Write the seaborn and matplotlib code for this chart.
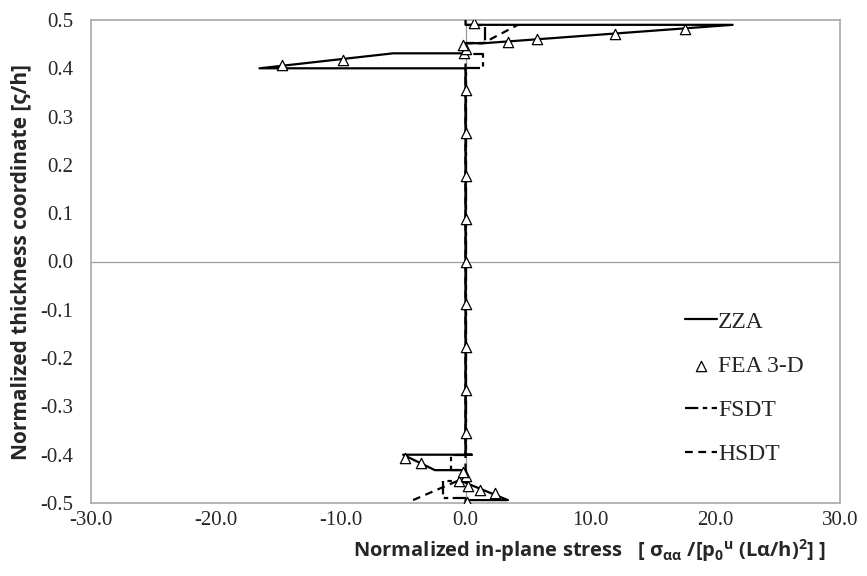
import matplotlib

matplotlib.use("Agg")

import matplotlib.pyplot as plt
import numpy as np
import pandas as pd
import seaborn as sns

# ZZA (solid) through-thickness path
ZZA_STRESS = [0, 0, 3.4, -0.2, -0.2, -2.45, -5.0, 0.5, 0, 0, -16.5, -5.8, 0, 0, 1.5, 21.4, 0, 0]
ZZA_Z = [-0.5, -0.494, -0.494, -0.456, -0.432, -0.432, -0.4, -0.4, -0.4, 0.4, 0.4, 0.431, 0.431, 0.452, 0.452, 0.49, 0.49, 0.5]

# FSDT (long-short dash)
FSDT_STRESS = [0, -1.8, -1.8, 0, 0, -1.2, -1.2, 0, 0, 1.4, 1.4, 0, 0, 1.6, 1.6, 0]
FSDT_Z = [-0.49, -0.49, -0.455, -0.455, -0.432, -0.432, -0.4, -0.4, 0.4, 0.4, 0.43, 0.43, 0.452, 0.452, 0.49, 0.49]

# HSDT (dashed)
HSDT_STRESS = [-4.2, -0.8, 0, 0, 1.4, 4.2]
HSDT_Z = [-0.494, -0.456, -0.456, 0.452, 0.452, 0.49]

# FEA 3-D points
FEA_STRESS = [0.1, 2.4, 1.2, 0.2, -0.5, 0, -0.2, -3.6, -4.85,
              0, 0, 0, 0, 0, 0, 0, 0, 0,
              -14.7, -9.8, -0.1, 0, -0.2, 3.4, 5.75, 12.0, 17.6, 0.7]
FEA_Z = [-0.497, -0.48, -0.473, -0.465, -0.455, -0.445, -0.435, -0.417, -0.407,
         -0.355, -0.266, -0.177, -0.089, 0, 0.089, 0.177, 0.266, 0.355,
         0.407, 0.417, 0.432, 0.44, 0.448, 0.455, 0.46, 0.471, 0.481, 0.493]

X_TICKS = [-30, -20, -10, 0, 10, 20, 30]
Y_TICKS = [-0.5, -0.4, -0.3, -0.2, -0.1, 0.0, 0.1, 0.2, 0.3, 0.4, 0.5]

sns.set_style("white")
plt.rcParams["font.family"] = ["Liberation Serif", "DejaVu Serif"]
plt.rcParams["mathtext.default"] = "regular"

fig = plt.figure(figsize=(8.67, 5.76), dpi=100)
ax = fig.add_axes([91 / 867, 1 - 503 / 576, 749 / 867, 483 / 576])

ax.axhline(0, color="#9a9a9a", lw=0.9, zorder=1)
ax.axvline(0, color="#9a9a9a", lw=0.9, zorder=1)

zza = pd.DataFrame({"s": ZZA_STRESS, "z": ZZA_Z})
fsdt = pd.DataFrame({"s": FSDT_STRESS, "z": FSDT_Z})
hsdt = pd.DataFrame({"s": HSDT_STRESS, "z": HSDT_Z})
fea = pd.DataFrame({"s": FEA_STRESS, "z": FEA_Z})

sns.lineplot(data=zza, x="s", y="z", sort=False, estimator=None, color="black", lw=1.6, ax=ax, label="ZZA", zorder=3)
sns.scatterplot(data=fea, x="s", y="z", marker="^", s=55, facecolor="white", edgecolor="black", linewidth=0.9,
                ax=ax, label="FEA 3-D", zorder=4)
sns.lineplot(data=fsdt, x="s", y="z", sort=False, estimator=None, color="black", lw=1.6, ax=ax, label="FSDT",
             dashes=False, zorder=3)
sns.lineplot(data=hsdt, x="s", y="z", sort=False, estimator=None, color="black", lw=1.6, ax=ax, label="HSDT",
             dashes=False, zorder=3)
lines = ax.get_lines()
lines[-2].set_dashes([6, 2, 2, 2])
lines[-1].set_dashes([3.5, 2.5])

ax.set_xlim(-30, 30)
ax.set_ylim(-0.5, 0.5)
ax.set_xticks(X_TICKS)
ax.set_yticks(Y_TICKS)
ax.set_xticklabels([f"{v:.1f}" for v in X_TICKS], fontsize=15)
ax.set_yticklabels([f"{v:.1f}" for v in Y_TICKS], fontsize=15)
ax.tick_params(axis="x", length=0, pad=6)
ax.tick_params(axis="y", length=0, pad=13)

for side in ["left", "right", "top", "bottom"]:
    ax.spines[side].set_color("#a8a8a8")
    ax.spines[side].set_linewidth(1.2)

xlabel_font = {"family": ["Open Sans", "DejaVu Sans"], "weight": "bold", "size": 14.5}
ylabel_font = {"family": ["Open Sans", "DejaVu Sans"], "weight": "bold", "size": 15}
ax.set_ylabel("Normalized thickness coordinate [ς/h]", fontdict=ylabel_font)
ax.set_xlabel("Normalized in-plane stress   [ σ$_{αα}$ /[p$_0$$^u$ (Lα/h)$^2$] ]", fontdict=xlabel_font)
ax.xaxis.set_label_coords(0.665, -0.07)
ax.yaxis.set_label_coords(-0.079, 0.5)

handles, labels = ax.get_legend_handles_labels()
order = [labels.index(n) for n in ["ZZA", "FEA 3-D", "FSDT", "HSDT"]]
ax.legend([handles[i] for i in order], [labels[i] for i in order], loc="upper left",
          bbox_to_anchor=(0.793, 0.3975), frameon=False, fontsize=17, labelspacing=0.96,
          handlelength=1.35, handletextpad=0.05, borderpad=0, borderaxespad=0)

fig.savefig("out.png", dpi=100)
